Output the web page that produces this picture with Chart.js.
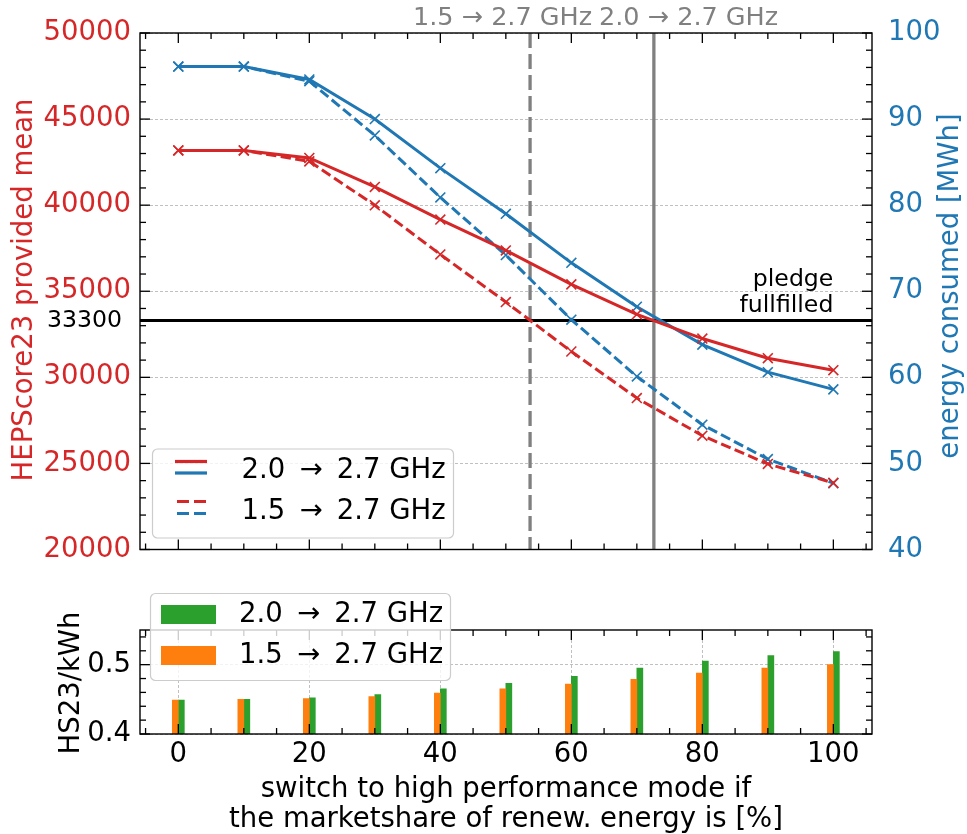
<!DOCTYPE html>
<html>
<head>
<meta charset="utf-8">
<script src="https://cdn.jsdelivr.net/npm/chart.js@4.4.1/dist/chart.umd.min.js"></script>
<style>
  html, body { margin: 0; padding: 0; background: #fff; }
  #wrap { position: relative; width: 967px; height: 834px; }
  #topChart { position: absolute; left: 0; top: 0; }
  #bottomChart { position: absolute; left: 0; top: 575px; }
</style>
</head>
<body>
<div id="wrap">
  <canvas id="topChart" width="967" height="575"></canvas>
  <canvas id="bottomChart" width="967" height="259"></canvas>
</div>
<script>
// renewable share at which the nodes switch to high performance mode [%]
const share = [0, 10, 20, 30, 40, 50, 60, 70, 80, 90, 100];

// HEPScore23 provided mean
const score20 = [43180, 43180, 42740, 41060, 39165, 37369, 35399, 33661, 32253, 31111, 30416];
const score15 = [43180, 43180, 42543, 39994, 37137, 34374, 31500, 28794, 26610, 24970, 23869];

// energy consumed [MWh]
const energy20 = [96.1, 96.1, 94.6, 90.0, 84.3, 79.0, 73.3, 68.2, 63.8, 60.6, 58.6];
const energy15 = [96.1, 96.1, 94.4, 88.1, 80.9, 74.2, 66.7, 60.1, 54.5, 50.5, 47.7];

// HS23 per kWh
const eff20 = [0.449, 0.450, 0.452, 0.457, 0.465, 0.473, 0.483, 0.495, 0.505, 0.513, 0.519];
const eff15 = [0.449, 0.450, 0.451, 0.454, 0.459, 0.465, 0.472, 0.479, 0.488, 0.495, 0.500];

const pledge = 33300;
const switch15 = 53.7;   // share where 1.5 -> 2.7 GHz reaches the pledge
const switch20 = 72.6;   // same for 2.0 -> 2.7 GHz

const scoreTicks = [20000, 25000, 30000, 35000, 40000, 45000, 50000];
const energyTicks = [40, 50, 60, 70, 80, 90, 100];
const shareTicks = [0, 20, 40, 60, 80, 100];
const effTicks = [0.4, 0.5];

const label20 = '2.0 \u2192 2.7 GHz';
const label15 = '1.5 \u2192 2.7 GHz';
// legend entries get a little more air around the arrow
const legend20 = '2.0 \u2009\u2192\u2009 2.7 GHz';
const legend15 = '1.5 \u2009\u2192\u2009 2.7 GHz';

const red = '#d62728', blue = '#1f77b4', green = '#2ca02c', orange = '#ff7f0e', gray = '#808080';
const gridColor = '#b0b0b0';
const xMin = -5.85, xMax = 105.9;

Chart.defaults.font.family = "'DejaVu Sans', sans-serif";
Chart.defaults.color = '#000';

function font(px) { return px + "px 'DejaVu Sans', sans-serif"; }

function fixed(list) {
  return scale => { scale.ticks = list.map(v => ({ value: v })); };
}

// matplotlib-like frame with inward major/minor ticks on every side
function frameTicks(chart, sides) {
  const ctx = chart.ctx, a = chart.chartArea;
  ctx.save();
  ctx.strokeStyle = '#000';
  ctx.lineWidth = 1.3;
  sides.forEach(s => {
    const sc = chart.scales[s.id];
    const k0 = Math.ceil(sc.min / s.minor - 1e-9);
    const k1 = Math.floor(sc.max / s.minor + 1e-9);
    for (let k = k0; k <= k1; k++) {
      const v = k * s.minor;
      const r = v / s.major;
      const len = Math.abs(r - Math.round(r)) < 1e-6 ? 10 : 6;
      const p = sc.getPixelForValue(v);
      ctx.beginPath();
      if (s.side === 'left') { ctx.moveTo(a.left, p); ctx.lineTo(a.left + len, p); }
      if (s.side === 'right') { ctx.moveTo(a.right, p); ctx.lineTo(a.right - len, p); }
      if (s.side === 'top') { ctx.moveTo(p, a.top); ctx.lineTo(p, a.top + len); }
      if (s.side === 'bottom') { ctx.moveTo(p, a.bottom); ctx.lineTo(p, a.bottom - len); }
      ctx.stroke();
    }
  });
  ctx.lineWidth = 1.4;
  ctx.strokeRect(a.left, a.top, a.right - a.left, a.bottom - a.top);
  ctx.restore();
}

function vText(ctx, text, x, y, color, px) {
  ctx.save();
  ctx.translate(x, y);
  ctx.rotate(-Math.PI / 2);
  ctx.font = font(px);
  ctx.fillStyle = color;
  ctx.textAlign = 'center';
  ctx.textBaseline = 'alphabetic';
  ctx.fillText(text, 0, 0);
  ctx.restore();
}

function legendBox(ctx, x, y, w, h) {
  const r = 5;
  ctx.beginPath();
  ctx.moveTo(x + r, y);
  ctx.arcTo(x + w, y, x + w, y + h, r);
  ctx.arcTo(x + w, y + h, x, y + h, r);
  ctx.arcTo(x, y + h, x, y, r);
  ctx.arcTo(x, y, x + w, y, r);
  ctx.closePath();
  ctx.fillStyle = 'rgba(255,255,255,0.8)';
  ctx.fill();
  ctx.strokeStyle = '#cccccc';
  ctx.lineWidth = 1.2;
  ctx.stroke();
}

function handle(ctx, x0, x1, y, color, dash) {
  ctx.beginPath();
  ctx.setLineDash(dash);
  ctx.strokeStyle = color;
  ctx.lineWidth = 3.2;
  ctx.moveTo(x0, y);
  ctx.lineTo(x1, y);
  ctx.stroke();
  ctx.setLineDash([]);
}

function line(label, xs, ys, color, axis, dash) {
  return {
    label: label,
    data: xs.map((x, i) => ({ x: x, y: ys[i] })),
    yAxisID: axis,
    borderColor: color,
    backgroundColor: color,
    borderWidth: 3,
    borderDash: dash,
    pointStyle: 'crossRot',
    pointRadius: 7,
    pointBorderWidth: 1.6,
    pointBorderColor: color,
    tension: 0,
    fill: false
  };
}

const dashed = [10.3, 4.4];

const topDecor = {
  id: 'topDecor',
  beforeDatasetsDraw(chart) {
    const ctx = chart.ctx, a = chart.chartArea;
    const x = chart.scales.x, y = chart.scales.y;
    ctx.save();
    ctx.strokeStyle = gray;
    ctx.lineWidth = 3.3;
    ctx.setLineDash([15, 6]);
    ctx.beginPath();
    ctx.moveTo(x.getPixelForValue(switch15), a.top);
    ctx.lineTo(x.getPixelForValue(switch15), a.bottom);
    ctx.stroke();
    ctx.setLineDash([]);
    ctx.beginPath();
    ctx.moveTo(x.getPixelForValue(switch20), a.top);
    ctx.lineTo(x.getPixelForValue(switch20), a.bottom);
    ctx.stroke();
    ctx.strokeStyle = '#000';
    ctx.lineWidth = 3.2;
    ctx.beginPath();
    ctx.moveTo(a.left, y.getPixelForValue(pledge));
    ctx.lineTo(a.right, y.getPixelForValue(pledge));
    ctx.stroke();
    ctx.restore();
  },
  afterDatasetsDraw(chart) {
    frameTicks(chart, [
      { id: 'y', side: 'left', major: 5000, minor: 1000 },
      { id: 'y2', side: 'right', major: 10, minor: 2 },
      { id: 'x', side: 'top', major: 20, minor: 5 },
      { id: 'x', side: 'bottom', major: 20, minor: 5 }
    ]);
  },
  afterDraw(chart) {
    const ctx = chart.ctx;
    const x = chart.scales.x, y = chart.scales.y;
    const py = y.getPixelForValue(pledge);
    ctx.save();

    // switch thresholds above the frame
    ctx.font = font(25.5);
    ctx.fillStyle = gray;
    ctx.textAlign = 'center';
    ctx.textBaseline = 'alphabetic';
    ctx.fillText(label15, x.getPixelForValue(49.5), 25);
    ctx.fillText(label20, x.getPixelForValue(77.9), 25);

    // pledge annotation
    ctx.font = font(23.6);
    ctx.fillStyle = '#000';
    ctx.textAlign = 'right';
    ctx.fillText('pledge', x.getPixelForValue(100), py - 34.5);
    ctx.fillText('fullfilled', x.getPixelForValue(100), py - 8.5);
    ctx.textBaseline = 'middle';
    ctx.fillText(String(pledge), 122, py);

    // axis titles
    vText(ctx, 'HEPScore23 provided mean', 31.5, 290, red, 27.5);
    vText(ctx, 'energy consumed [MWh]', 958, 286, blue, 27.5);

    // legend
    legendBox(ctx, 152.5, 449, 301, 89);
    handle(ctx, 175, 207, 461.5, red, []);
    handle(ctx, 175, 207, 473, blue, []);
    handle(ctx, 177, 207, 501.5, red, [12, 5]);
    handle(ctx, 177, 207, 513.5, blue, [12, 5]);
    ctx.font = font(27.5);
    ctx.fillStyle = '#000';
    ctx.textAlign = 'left';
    ctx.textBaseline = 'middle';
    ctx.fillText(legend20, 241.5, 471);
    ctx.fillText(legend15, 241.5, 511.5);
    ctx.restore();
  }
};

new Chart(document.getElementById('topChart'), {
  type: 'line',
  data: {
    datasets: [
      line(label20, share, score20, red, 'y', []),
      line(label15, share, score15, red, 'y', dashed),
      line(label20, share, energy20, blue, 'y2', []),
      line(label15, share, energy15, blue, 'y2', dashed)
    ]
  },
  options: {
    responsive: false,
    animation: false,
    events: [],
    layout: { padding: { top: 33, left: 0, right: 0, bottom: 0 } },
    plugins: { legend: { display: false }, tooltip: { enabled: false } },
    scales: {
      x: {
        type: 'linear',
        min: xMin,
        max: xMax,
        ticks: { display: false },
        grid: { display: false },
        border: { display: false },
        afterFit: s => { s.height = 24; }
      },
      y: {
        type: 'linear',
        position: 'left',
        min: 20000,
        max: 50000,
        afterBuildTicks: fixed(scoreTicks),
        ticks: { color: red, font: { size: 27.5 }, padding: 9, callback: v => String(v) },
        grid: { color: gridColor, lineWidth: 0.8, drawTicks: false },
        border: { display: false, dash: [3, 2] },
        afterFit: s => { s.width = 140; }
      },
      y2: {
        type: 'linear',
        position: 'right',
        min: 40,
        max: 100,
        afterBuildTicks: fixed(energyTicks),
        ticks: { color: blue, font: { size: 27.5 }, padding: 8, callback: v => String(v) },
        grid: { display: false },
        border: { display: false },
        afterFit: s => { s.width = 95; }
      }
    }
  },
  plugins: [topDecor]
});

const bottomDecor = {
  id: 'bottomDecor',
  afterDatasetsDraw(chart) {
    frameTicks(chart, [
      { id: 'y', side: 'left', major: 0.1, minor: 0.02 },
      { id: 'y', side: 'right', major: 0.1, minor: 0.02 },
      { id: 'x', side: 'top', major: 20, minor: 5 },
      { id: 'x', side: 'bottom', major: 20, minor: 5 }
    ]);
  },
  afterDraw(chart) {
    const ctx = chart.ctx;
    ctx.save();
    vText(ctx, 'HS23/kWh', 79, 108, '#000', 27.5);

    ctx.font = font(27.5);
    ctx.fillStyle = '#000';
    ctx.textAlign = 'center';
    ctx.textBaseline = 'alphabetic';
    ctx.fillText('switch to high performance mode if', 506, 222);
    ctx.fillText('the marketshare of renew. energy is [%]', 506, 252);

    legendBox(ctx, 150.5, 18.5, 300, 87);
    ctx.fillStyle = green;
    ctx.fillRect(161, 30, 55, 19);
    ctx.fillStyle = orange;
    ctx.fillRect(161, 71, 55, 19);
    ctx.fillStyle = '#000';
    ctx.textAlign = 'left';
    ctx.textBaseline = 'middle';
    ctx.fillText(legend20, 239, 39.5);
    ctx.fillText(legend15, 239, 80.5);
    ctx.restore();
  }
};

new Chart(document.getElementById('bottomChart'), {
  type: 'bar',
  data: {
    datasets: [
      {
        label: label15,
        data: share.map((x, i) => ({ x: x, y: eff15[i] })),
        backgroundColor: orange,
        barThickness: 6
      },
      {
        label: label20,
        data: share.map((x, i) => ({ x: x, y: eff20[i] })),
        backgroundColor: green,
        barThickness: 6
      }
    ]
  },
  options: {
    responsive: false,
    animation: false,
    events: [],
    layout: { padding: { top: 55, left: 0, right: 0, bottom: 0 } },
    plugins: { legend: { display: false }, tooltip: { enabled: false } },
    scales: {
      x: {
        type: 'linear',
        offset: false,
        min: xMin,
        max: xMax,
        afterBuildTicks: fixed(shareTicks),
        ticks: { font: { size: 27.5 }, padding: 4, autoSkip: false, maxRotation: 0, callback: v => String(v) },
        grid: { color: gridColor, lineWidth: 0.8, drawTicks: false, offset: false },
        border: { display: false, dash: [3, 2] },
        afterFit: s => { s.height = 100; }
      },
      y: {
        type: 'linear',
        min: 0.4,
        max: 0.55,
        afterBuildTicks: fixed(effTicks),
        ticks: { font: { size: 27.5 }, padding: 9, callback: v => v.toFixed(1) },
        grid: { color: gridColor, lineWidth: 0.8, drawTicks: false },
        border: { display: false, dash: [3, 2] },
        afterFit: s => { s.width = 140; }
      },
      y2: {
        type: 'linear',
        position: 'right',
        display: false,
        afterFit: s => { s.width = 95; }
      }
    }
  },
  plugins: [bottomDecor]
});
</script>
</body>
</html>
